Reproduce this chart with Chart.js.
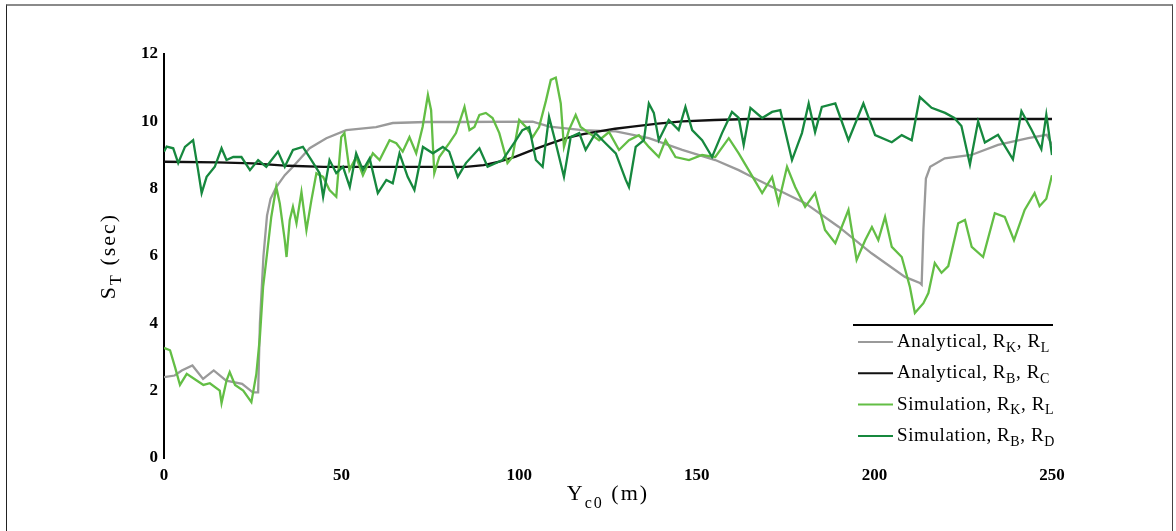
<!DOCTYPE html>
<html lang="en">
<head>
  <meta charset="UTF-8">
  <title>S_T vs Y_c0</title>
  <script src="https://cdn.jsdelivr.net/npm/chart.js"></script>
  <style>
    html, body {
      margin: 0;
      padding: 0;
      background: #fff;
    }
    #wrap {
      position: relative;
      width: 1176px;
      height: 531px;
    }
    #frame {
      position: absolute;
      left: 6px;
      top: 4px;
      width: 1165px;
      height: 540px;
      border-top: 2px solid #8a8a8a;
      border-left: 1px solid #222;
      border-right: 1px solid #444;
      pointer-events: none;
    }
  </style>
</head>
<body>
  <div id="wrap">
    <canvas id="chart"></canvas>
    <div id="frame"></div>
  </div>

  <script>
    // axis ticks
    const xTicks = [0, 50, 100, 150, 200, 250];
    const yTicks = [0, 2, 4, 6, 8, 10, 12];

    // series labels (underscore = subscript)
    const seriesLabels = [
      'Analytical, R_K, R_L',
      'Analytical, R_B, R_C',
      'Simulation, R_K, R_L',
      'Simulation, R_B, R_D'
    ];

    // Analytical, R_K, R_L (grey)
    const anaKLx = [0, 3, 5, 8, 11, 14, 17.5, 22, 25, 26.5,
      27, 28, 29, 30, 31.6, 34, 36.3, 41, 45.7, 51.3,
      59.7, 64.4, 73.8, 83, 103.8, 108.5, 117.8, 127.2, 136.5, 145.9,
      155.2, 161.8, 164.6, 171.2, 180.5, 189.9, 199.2, 208.6, 212.8, 213.3,
      213.8, 214.5, 215.7, 219.8, 227.3, 234.8, 243.3, 248.5, 250];
    const anaKLy = [2.4, 2.45, 2.6, 2.75, 2.35, 2.6, 2.3, 2.2, 1.95, 1.95,
      4.0, 6.0, 7.2, 7.7, 8.05, 8.4, 8.65, 9.2, 9.5, 9.74,
      9.83, 9.95, 9.98, 9.98, 9.99, 9.84, 9.74, 9.7, 9.5, 9.15,
      8.85, 8.55, 8.4, 8.05, 7.57, 6.87, 6.08, 5.38, 5.2, 5.15,
      6.8, 8.3, 8.65, 8.9, 9.0, 9.3, 9.5, 9.6, 9.3];

    // Analytical, R_B, R_C (black)
    const anaBCx = [0, 15, 25, 35, 45, 85, 90, 94.4, 99, 103.8,
      108.5, 113.2, 118, 122.5, 127, 131.9, 139, 145.9, 155, 164.6, 250];
    const anaBCy = [8.8, 8.78, 8.75, 8.68, 8.65, 8.65, 8.7, 8.8, 8.95, 9.15,
      9.33, 9.5, 9.62, 9.7, 9.78, 9.84, 9.93, 10.0, 10.04, 10.07, 10.07];

    // Simulation, R_K, R_L (light green)
    const simKLx = [0, 1.7, 3.1, 4.5, 6.4, 9.2, 11.1, 12.9, 15.7, 16.2,
      17.6, 18.5, 20, 22.3, 24.6, 26, 27, 27.9, 28.8, 30.2,
      31.6, 32.6, 34, 34.5, 35.4, 36.3, 37.3, 38.7, 40.1, 41.5,
      42.9, 44.8, 46.6, 48.5, 49.9, 50.8, 52.2, 54.1, 56, 58.8,
      60.7, 63.5, 65.4, 67.2, 69.1, 71, 72.8, 74.3, 75.2, 76.1,
      77.5, 80.3, 82.2, 84.6, 86, 87.4, 88.8, 90.6, 92.5, 94.4,
      96.7, 98.1, 100, 101.9, 103.8, 105.6, 107.5, 108.9, 110.3, 111.7,
      112.6, 114, 115.9, 117.3, 119.7, 122.5, 125.3, 128.1, 130.9, 133.7,
      136.5, 139.3, 141.2, 144, 147.8, 151.5, 155.2, 159, 161.8, 164.6,
      168.4, 171.2, 173, 175.4, 177.7, 180.5, 183.3, 186.1, 189, 192.7,
      195, 197.4, 199.3, 201.1, 203, 204.9, 207.7, 210, 211.4, 213.8,
      215.2, 217, 218.9, 220.8, 223.6, 225.5, 227.4, 230.6, 233.9, 236.7,
      239.3, 242.3, 245.1, 246.5, 248.4, 250];
    const simKLy = [3.27, 3.2, 2.7, 2.17, 2.5, 2.3, 2.17, 2.22, 2.0, 1.63,
      2.3, 2.55, 2.17, 2.0, 1.66, 2.5, 3.6, 5.08, 5.88, 7.16,
      8.05, 7.56, 6.47, 5.97, 7.07, 7.46, 6.97, 7.9, 6.77, 7.66,
      8.46, 8.35, 7.96, 7.76, 9.53, 9.65, 8.55, 8.94, 8.4, 9.05,
      8.85, 9.44, 9.35, 9.1, 9.53, 9.05, 9.83, 10.78, 10.33, 8.46,
      8.94, 9.35, 9.65, 10.43, 9.74, 9.83, 10.19, 10.25, 10.1, 9.65,
      8.76, 8.94, 10.04, 9.83, 9.53, 9.83, 10.6, 11.23, 11.3, 10.53,
      9.24, 9.74, 10.19, 9.83, 9.65, 9.44, 9.68, 9.15, 9.44, 9.59,
      9.24, 8.94, 9.44, 8.94, 8.85, 9.0, 8.94, 9.5, 9.05, 8.55,
      7.87, 8.35, 7.57, 8.65, 8.05, 7.46, 7.87, 6.77, 6.38, 7.37,
      5.88, 6.47, 6.86, 6.47, 7.16, 6.27, 5.97, 5.08, 4.31, 4.6,
      4.9, 5.79, 5.5, 5.7, 6.97, 7.07, 6.27, 5.97, 7.27, 7.16,
      6.47, 7.37, 7.87, 7.48, 7.7, 8.4];

    // Simulation, R_B, R_D (dark green)
    const simBDx = [0, 0.75, 2.6, 4, 5.9, 8.2, 9.6, 10.6, 12, 14.3,
      16.2, 17.6, 19.5, 21.8, 24.2, 26.5, 28.8, 32.1, 34, 36.3,
      39.1, 41.5, 43.8, 44.8, 46.6, 48.5, 50.4, 52.3, 54.1, 56,
      57.9, 60.2, 62.6, 64.4, 66.3, 68.6, 70.5, 72.9, 75.7, 78.5,
      80.3, 82.7, 85, 88.8, 91.1, 95.3, 99.1, 100.9, 102.8, 104.7,
      106.6, 108.4, 110.3, 112.6, 114.5, 116.9, 118.7, 121.5, 124.3, 127.2,
      130, 130.9, 132.8, 135.1, 136.5, 137.9, 139.3, 142.1, 144.9, 146.8,
      148.7, 151.5, 154.3, 157.1, 159.9, 161.8, 163.2, 165.1, 168.4, 171.2,
      173.5, 176.8, 179.6, 181.5, 183.3, 185.2, 189, 192.7, 196.9, 200.2,
      204.9, 207.7, 210.5, 212.8, 216.1, 219.9, 222.5, 224.5, 226.9, 229.2,
      231.1, 234.8, 239, 241.4, 244.2, 247, 248.4, 250];
    const simBDy = [9.1, 9.25, 9.2, 8.76, 9.24, 9.44, 8.55, 7.87, 8.35, 8.65,
      9.2, 8.85, 8.94, 8.94, 8.55, 8.85, 8.65, 9.1, 8.65, 9.15,
      9.24, 8.85, 8.46, 7.76, 8.85, 8.46, 8.65, 8.05, 9.05, 8.55,
      8.9, 7.87, 8.26, 8.16, 9.05, 8.35, 7.96, 9.24, 9.05, 9.24,
      9.1, 8.35, 8.76, 9.2, 8.65, 8.85, 9.44, 9.74, 9.83, 8.85,
      8.65, 10.13, 9.35, 8.35, 9.53, 9.65, 9.15, 9.65, 9.35, 9.05,
      8.26, 8.05, 9.24, 9.44, 10.53, 10.25, 9.44, 10.04, 9.74, 10.43,
      9.74, 9.44, 8.94, 9.65, 10.28, 10.1, 9.3, 10.4, 10.1, 10.28,
      10.33, 8.85, 9.65, 10.53, 9.68, 10.43, 10.53, 9.44, 10.53, 9.59,
      9.38, 9.59, 9.44, 10.72, 10.4, 10.25, 10.1, 9.86, 8.72, 10.0,
      9.37, 9.6, 8.87, 10.3, 9.76, 9.17, 10.2, 9.0];

    const FONT = '"Liberation Serif", "Times New Roman", serif';

    function toPoints(xs, ys) {
      return xs.map((x, i) => ({ x: x, y: ys[i] }));
    }

    // split "R_K" style text into normal / subscript pieces
    function richParts(str) {
      const parts = [];
      const re = /_([A-Za-z0-9]+)/g;
      let last = 0, m;
      while ((m = re.exec(str))) {
        if (m.index > last) parts.push({ t: str.slice(last, m.index), sub: false });
        parts.push({ t: m[1], sub: true });
        last = re.lastIndex;
      }
      if (last < str.length) parts.push({ t: str.slice(last), sub: false });
      return parts;
    }

    function drawRich(ctx, str, x, y, align, size, subDrop, spacing) {
      const parts = richParts(str);
      const main = size + 'px ' + FONT;
      const small = Math.round(size * 0.72) + 'px ' + FONT;
      ctx.letterSpacing = (spacing || 0) + 'px';
      let w = 0;
      parts.forEach(p => {
        ctx.font = p.sub ? small : main;
        p.w = ctx.measureText(p.t).width;
        w += p.w;
      });
      let cx = align === 'center' ? x - w / 2 : x;
      ctx.textAlign = 'left';
      ctx.textBaseline = 'middle';
      parts.forEach(p => {
        ctx.font = p.sub ? small : main;
        ctx.fillText(p.t, cx, y + (p.sub ? subDrop : 0));
        cx += p.w;
      });
      ctx.letterSpacing = '0px';
    }

    // axis titles and the legend box in the lower right
    const extras = {
      id: 'extras',
      afterDraw(chart) {
        const ctx = chart.ctx;
        const a = chart.chartArea;
        ctx.save();
        ctx.fillStyle = '#000';

        drawRich(ctx, 'Y_c0 (m)', (a.left + a.right) / 2, a.bottom + 36, 'center', 22, 10, 2);

        ctx.save();
        ctx.translate(a.left - 55, (a.top + a.bottom) / 2);
        ctx.rotate(-Math.PI / 2);
        drawRich(ctx, 'S_T (sec)', 0, 0, 'center', 22, 8, 2);
        ctx.restore();

        // legend
        const lx = a.right - 199;
        const ly = a.top + 271;
        ctx.strokeStyle = '#000';
        ctx.lineWidth = 2;
        ctx.beginPath();
        ctx.moveTo(lx, ly);
        ctx.lineTo(a.right + 1, ly);
        ctx.stroke();
        chart.data.datasets.forEach((ds, i) => {
          const y = ly + 17 + i * 31.3;
          ctx.strokeStyle = ds.borderColor;
          ctx.lineWidth = 2;
          ctx.beginPath();
          ctx.moveTo(lx + 5, y);
          ctx.lineTo(lx + 40, y);
          ctx.stroke();
          ctx.fillStyle = '#000';
          drawRich(ctx, ds.label, lx + 44, y, 'left', 19, 6, 0.6);
        });
        ctx.restore();
      }
    };

    const seriesColors = ['#9a9a9a', '#111111', '#63be45', '#16883e'];
    const seriesData = [
      toPoints(anaKLx, anaKLy),
      toPoints(anaBCx, anaBCy),
      toPoints(simKLx, simKLy),
      toPoints(simBDx, simBDy)
    ];
    const drawOrder = [3, 2, 1, 0];

    const chart = new Chart(document.getElementById('chart'), {
      type: 'line',
      data: {
        datasets: seriesLabels.map((label, i) => ({
          label: label,
          data: seriesData[i],
          borderColor: seriesColors[i],
          backgroundColor: seriesColors[i],
          borderWidth: 2.3,
          pointRadius: 0,
          tension: 0,
          fill: false,
          order: drawOrder[i]
        }))
      },
      options: {
        responsive: true,
        maintainAspectRatio: false,
        animation: false,
        layout: { padding: { left: 0, right: 124, top: 54, bottom: 0 } },
        plugins: {
          legend: { display: false },
          tooltip: { enabled: false }
        },
        scales: {
          x: {
            type: 'linear',
            min: 0,
            max: 250,
            afterFit: s => { s.height = 73; },
            afterBuildTicks: s => { s.ticks = xTicks.map(v => ({ value: v })); },
            grid: { display: false, drawTicks: false },
            border: { display: false },
            ticks: { padding: 7, color: '#000', font: { family: FONT, size: 17, weight: 'bold' } }
          },
          y: {
            min: 0,
            max: 12,
            afterFit: s => { s.width = 164; },
            afterBuildTicks: s => { s.ticks = yTicks.map(v => ({ value: v })); },
            grid: { display: false, drawTicks: false },
            border: { display: true, color: '#000', width: 2 },
            ticks: { padding: 6, color: '#000', font: { family: FONT, size: 17, weight: 'bold' } }
          }
        }
      },
      plugins: [extras]
    });
  </script>
</body>
</html>
